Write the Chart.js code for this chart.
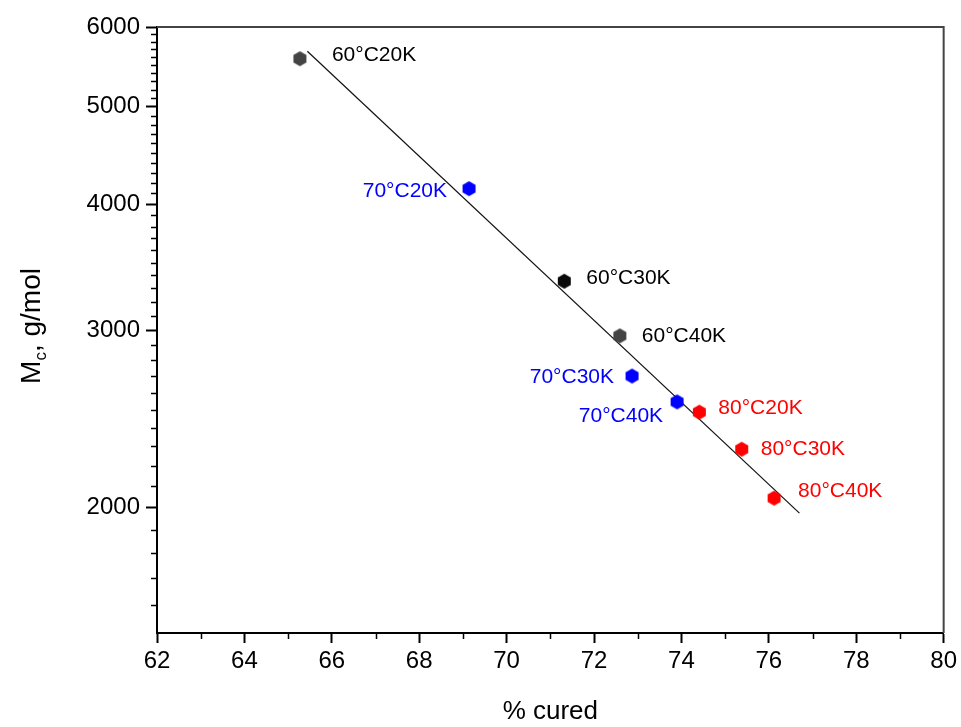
<!DOCTYPE html>
<html>
<head>
<meta charset="utf-8">
<script src="https://cdn.jsdelivr.net/npm/chart.js@4"></script>
<style>
  html, body { margin: 0; padding: 0; background: #fff; }
  #wrap { width: 961px; height: 727px; }
</style>
</head>
<body>
<div id="wrap"><canvas id="chart" width="961" height="727"></canvas></div>
<script>
// ---------- data ----------
const names60 = ["60°C20K", "60°C30K", "60°C40K"];
const cured60 = [65.27, 71.32, 72.59];
const mc60 = [5580, 3354, 2960];

const names70 = ["70°C20K", "70°C30K", "70°C40K"];
const cured70 = [69.14, 72.87, 73.90];
const mc70 = [4145, 2700, 2545];

const names80 = ["80°C20K", "80°C30K", "80°C40K"];
const cured80 = [74.41, 75.38, 76.12];
const mc80 = [2486, 2284, 2042];

// linear fit of log(Mc) vs % cured, end points
const fitCured = [65.44, 76.70];
const fitMc = [5676, 1973];

const xTicks = [62, 64, 66, 68, 70, 72, 74, 76, 78, 80];
const yTicks = [2000, 3000, 4000, 5000, 6000];

// ---------- styling ----------
const FONT = "'Liberation Sans', Arial, sans-serif";

const labelOffsets = {
  "60°C20K": [32, -4], "60°C30K": [22, -3], "60°C40K": [22, 0],
  "70°C20K": [-22, 3], "70°C30K": [-18, 1], "70°C40K": [-14, 14],
  "80°C20K": [19, -4], "80°C30K": [19, 0], "80°C40K": [24, -7]
};

function hexMarker(color, r) {
  const c = document.createElement("canvas");
  const s = Math.ceil(r * 2 + 2);
  c.width = s; c.height = s;
  const g = c.getContext("2d");
  g.beginPath();
  for (let i = 0; i < 6; i++) {
    const a = (-90 + 60 * i) * Math.PI / 180;
    const px = s / 2 + r * Math.cos(a), py = s / 2 + r * Math.sin(a);
    if (i === 0) g.moveTo(px, py); else g.lineTo(px, py);
  }
  g.closePath();
  g.fillStyle = color;
  g.fill();
  return c;
}

const grayHex = hexMarker("#444444", 7.5);
const blackHex = hexMarker("#0a0a0a", 7.5);
const blueHex = hexMarker("#0000ff", 7.5);
const redHex = hexMarker("#ff0000", 7.5);

const toPts = (xs, ys) => xs.map((x, i) => ({ x: x, y: ys[i] }));

const groups = [
  { names: names60, cured: cured60, mc: mc60, color: "#000000" },
  { names: names70, cured: cured70, mc: mc70, color: "#0000ff" },
  { names: names80, cured: cured80, mc: mc80, color: "#ff0000" }
];

// ---------- plugins ----------
const framePlugin = {
  id: "frame",
  afterDraw(chart) {
    const { ctx, chartArea: a } = chart;
    const xs = chart.scales.x, ys = chart.scales.y;
    ctx.save();
    // top + right border
    ctx.strokeStyle = "#444";
    ctx.lineWidth = 2;
    ctx.beginPath();
    ctx.moveTo(a.left, a.top);
    ctx.lineTo(a.right, a.top);
    ctx.lineTo(a.right, a.bottom);
    ctx.stroke();

    // minor ticks
    ctx.strokeStyle = "#000";
    ctx.lineWidth = 1.5;
    ctx.beginPath();
    for (let v = 1600; v < 6000; v += 100) {
      if (yTicks.includes(v)) continue;
      const py = Math.round(ys.getPixelForValue(v)) + 0.5;
      ctx.moveTo(a.left - 6, py);
      ctx.lineTo(a.left, py);
    }
    for (let v = 63; v < 80; v += 2) {
      const px = Math.round(xs.getPixelForValue(v)) + 0.5;
      ctx.moveTo(px, a.bottom);
      ctx.lineTo(px, a.bottom + 6);
    }
    ctx.stroke();

    // axis titles
    ctx.fillStyle = "#000";
    ctx.font = "26px " + FONT;
    ctx.textAlign = "center";
    ctx.textBaseline = "alphabetic";
    ctx.fillText("% cured", (a.left + a.right) / 2, 719);

    ctx.translate(40, 326);
    ctx.rotate(-Math.PI / 2);
    ctx.textAlign = "left";
    const big = "28px " + FONT, small = "17px " + FONT;
    ctx.font = big;
    const wM = ctx.measureText("M").width;
    const wRest = ctx.measureText(", g/mol").width;
    ctx.font = small;
    const wc = ctx.measureText("c").width;
    let x0 = -(wM + wc + wRest) / 2;
    ctx.font = big;
    ctx.fillText("M", x0, 0);
    ctx.font = small;
    ctx.fillText("c", x0 + wM, 6);
    ctx.font = big;
    ctx.fillText(", g/mol", x0 + wM + wc, 0);
    ctx.restore();
  }
};

const labelPlugin = {
  id: "pointLabels",
  afterDatasetsDraw(chart) {
    const ctx = chart.ctx;
    const xs = chart.scales.x, ys = chart.scales.y;
    ctx.save();
    ctx.font = "21px " + FONT;
    ctx.textBaseline = "middle";
    groups.forEach(g => {
      g.names.forEach((name, i) => {
        const px = xs.getPixelForValue(g.cured[i]);
        const py = ys.getPixelForValue(g.mc[i]);
        const off = labelOffsets[name];
        ctx.fillStyle = g.color;
        ctx.textAlign = off[0] < 0 ? "right" : "left";
        ctx.fillText(name, px + off[0], py + off[1]);
      });
    });
    ctx.restore();
  }
};

// ---------- chart ----------
const ctx = document.getElementById("chart").getContext("2d");
new Chart(ctx, {
  type: "scatter",
  data: {
    datasets: [
      {
        label: "fit",
        type: "line",
        data: toPts(fitCured, fitMc),
        borderColor: "#111",
        borderWidth: 1.2,
        pointRadius: 0,
        fill: false,
        order: 2
      },
      {
        label: "60°C",
        data: toPts(cured60, mc60),
        pointStyle: [grayHex, blackHex, grayHex],
        order: 1
      },
      {
        label: "70°C",
        data: toPts(cured70, mc70),
        pointStyle: blueHex,
        order: 1
      },
      {
        label: "80°C",
        data: toPts(cured80, mc80),
        pointStyle: redHex,
        order: 1
      }
    ]
  },
  options: {
    responsive: false,
    animation: false,
    devicePixelRatio: 1,
    layout: { padding: { top: 27, right: 15, left: 0, bottom: 0 } },
    plugins: {
      legend: { display: false },
      tooltip: { enabled: false }
    },
    scales: {
      x: {
        type: "linear",
        min: 62,
        max: 80,
        afterFit(scale) { scale.height = 94; },
        afterBuildTicks(scale) { scale.ticks = xTicks.map(v => ({ value: v })); },
        border: { display: true, color: "#000", width: 2 },
        grid: { drawOnChartArea: false, drawTicks: true, tickLength: 10, tickWidth: 2, tickColor: "#000" },
        ticks: { color: "#000", font: { family: FONT, size: 24 }, padding: 4, maxRotation: 0 }
      },
      y: {
        type: "logarithmic",
        min: 1500,
        max: 6000,
        afterFit(scale) { scale.width = 157; },
        afterBuildTicks(scale) { scale.ticks = yTicks.map(v => ({ value: v })); },
        border: { display: true, color: "#000", width: 2 },
        grid: { drawOnChartArea: false, drawTicks: true, tickLength: 11, tickWidth: 2, tickColor: "#000" },
        ticks: {
          color: "#000",
          font: { family: FONT, size: 24 },
          padding: 6,
          callback: v => String(v)
        }
      }
    }
  },
  plugins: [framePlugin, labelPlugin]
});
</script>
</body>
</html>
